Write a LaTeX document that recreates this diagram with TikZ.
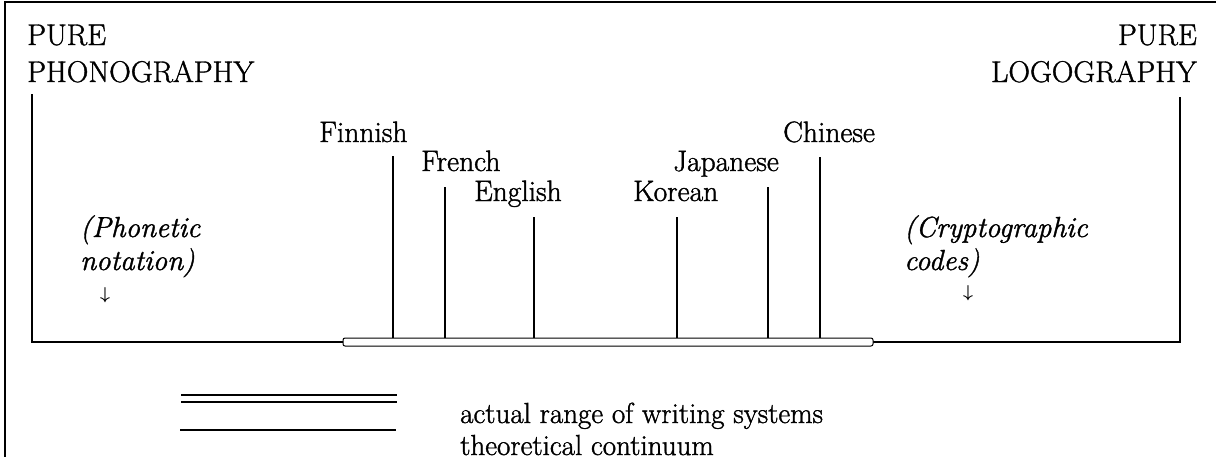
\documentclass[tikz,border=0pt]{standalone}
\usepackage{fontspec}
\setmainfont{Latin Modern Roman}[FakeBold=1.3]
\begin{document}
\begin{tikzpicture}[x=1pt,y=-1pt,
  caps/.style={inner sep=0pt,font=\fontsize{30}{37}\selectfont},
  lang/.style={inner sep=0pt,font=\fontsize{29.5}{34}\selectfont},
  ital/.style={inner sep=0pt,font=\fontsize{29}{34}\itshape\selectfont},
  legend/.style={inner sep=0pt,font=\fontsize{29}{33}\selectfont},
  arr/.style={inner sep=0pt,font=\fontsize{19}{20}\selectfont\boldmath},
  thin line/.style={line width=1.1pt},
  tick/.style={line width=1.2pt}]
\useasboundingbox (0,0) rectangle (1216,459);
% frame (cropped)
\draw[line width=2pt] (1216,2) -- (5,2) -- (5,457);

% end labels
\node[caps,anchor=base west] (pp1) at (27,45) {PURE};
\node[caps,anchor=base west] (pp2) at (27,82) {PHONOGRAPHY};
\node[caps,anchor=base east] (pl1) at (1197,45) {PURE};
\node[caps,anchor=base east] (pl2) at (1197,82) {LOGOGRAPHY};

% continuum
\coordinate (lt) at (32,94);
\coordinate (lb) at (32,342);
\coordinate (rt) at (1180,97);
\coordinate (rb) at (1180,342);
\draw[thin line] (lt) -- (lb) -- (rb) -- (rt);

% language labels
\node[lang,anchor=base west] (fi) at (319,142) {Finnish};
\node[lang,anchor=base west] (fr) at (421,171) {French};
\node[lang,anchor=base west] (en) at (474,201) {English};
\node[lang,anchor=base west] (ko) at (633,201) {Korean};
\node[lang,anchor=base west] (ja) at (673,171) {Japanese};
\node[lang,anchor=base west] (zh) at (783,142) {Chinese};

\coordinate (fit) at (393,156);
\coordinate (frt) at (445,187);
\coordinate (ent) at (534,217);
\coordinate (kot) at (677,217);
\coordinate (jat) at (768,187);
\coordinate (zht) at (820,157);
\foreach \c in {fit,frt,ent,kot,jat,zht}{
  \draw[tick] (\c) -- (\c |- lb);
}

% actual range bar
\draw[line width=1pt,fill=white,rounded corners=2pt] (343,338) rectangle (873,346);

% italic notes
\node[ital,anchor=base west] (ph1) at (80,237) {(Phonetic};
\node[ital,anchor=base west] (ph2) at (80,270) {notation)};
\node[arr] (pha) at (105,295) {$\downarrow$};
\node[ital,anchor=base west] (cr1) at (904,237) {(Cryptographic};
\node[ital,anchor=base west] (cr2) at (904,270) {codes)};
\node[arr] (cra) at (968,293) {$\downarrow$};

% legend
\coordinate (la1) at (181,395);
\coordinate (la2) at (397,395);
\coordinate (lb1) at (181,402);
\coordinate (lb2) at (397,402);
\coordinate (lc1) at (180,430);
\coordinate (lc2) at (396,430);
\draw[thin line] (la1) -- (la2);
\draw[thin line] (lb1) -- (lb2);
\draw[thin line] (lc1) -- (lc2);
\node[legend,anchor=base west] (l1) at (460,423) {actual range of writing systems};
\node[legend,anchor=base west] (l2) at (460,455) {theoretical continuum};
\end{tikzpicture}
\end{document}
